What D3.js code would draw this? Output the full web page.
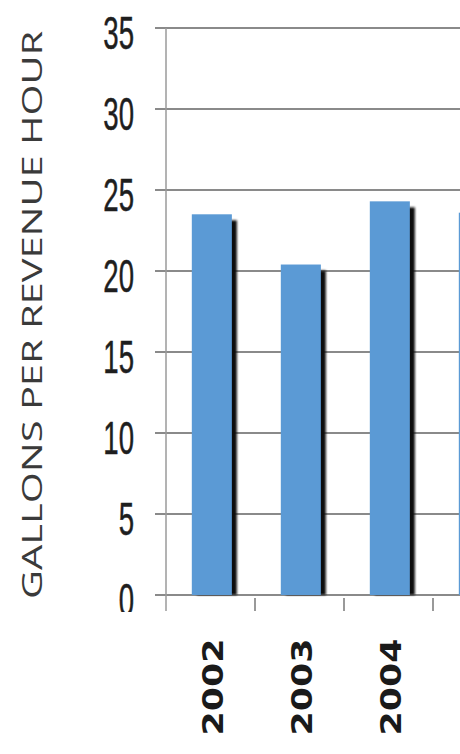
<!DOCTYPE html>
<html>
<head>
<meta charset="utf-8">
<script src="https://cdn.jsdelivr.net/npm/d3@7"></script>
<style>
  html, body { margin: 0; padding: 0; background: #fff; overflow: hidden; }
</style>
</head>
<body>
<div id="chart"></div>
<script>
// data
var years = ["2002", "2003", "2004", "2005"];
var gallons = [23.5, 20.4, 24.3, 23.6];
var yTicks = [0, 5, 10, 15, 20, 25, 30, 35];
var yTitle = "GALLONS PER REVENUE HOUR";

var W = 460, H = 754;
var svg = d3.select("#chart").append("svg")
    .attr("width", W)
    .attr("height", H);

var axisX = 166, bandW = 89;
var y = d3.scaleLinear().domain([0, 35]).range([595, 28]);
var x = d3.scaleBand().domain(years)
    .range([axisX, axisX + bandW * years.length])
    .paddingInner(0).paddingOuter(0);

var defs = svg.append("defs");
defs.append("clipPath").attr("id", "ylabClip")
  .append("rect").attr("x", 0).attr("y", 0).attr("width", 160).attr("height", 612);
defs.append("filter").attr("id", "soft")
  .append("feGaussianBlur").attr("stdDeviation", 0.8);

// gridlines
svg.append("g").selectAll("line")
    .data(yTicks)
  .enter().append("line")
    .attr("x1", 155).attr("x2", W)
    .attr("y1", function(d) { return y(d); })
    .attr("y2", function(d) { return y(d); })
    .style("stroke", "#8a8a8a")
    .style("stroke-width", 2);

// y axis line
svg.append("line")
    .attr("x1", axisX).attr("x2", axisX)
    .attr("y1", y(35)).attr("y2", 611)
    .style("stroke", "#9a9a9a")
    .style("stroke-width", 1.5);

// category tick marks below the axis
svg.append("g").selectAll("line")
    .data(years.slice(1))
  .enter().append("line")
    .attr("x1", function(d) { return x(d); })
    .attr("x2", function(d) { return x(d); })
    .attr("y1", 598).attr("y2", 611)
    .style("stroke", "#777")
    .style("stroke-width", 1.5);

// bars: dark shadow then blue face
var bw = bandW * 0.45;
var bars = svg.append("g").selectAll("g")
    .data(gallons)
  .enter().append("g");

bars.append("rect")
    .attr("x", function(d, i) { return x(years[i]) + bandW * 0.29 + 5; })
    .attr("y", function(d) { return y(d) + 6; })
    .attr("width", bw)
    .attr("height", function(d) { return y(0) - y(d) - 6; })
    .style("fill", "#111")
    .attr("filter", "url(#soft)");

bars.append("rect")
    .attr("x", function(d, i) { return x(years[i]) + bandW * 0.29; })
    .attr("y", function(d) { return y(d); })
    .attr("width", bw)
    .attr("height", function(d) { return y(0) - y(d); })
    .style("fill", "#5b9ad5");

// y tick labels (tall, narrow digits)
svg.append("g").attr("clip-path", "url(#ylabClip)")
  .selectAll("text")
    .data(yTicks)
  .enter().append("text")
    .attr("transform", function(d) { return "translate(134," + (y(d) + 21) + ") scale(0.6,1)"; })
    .attr("text-anchor", "end")
    .style("font-family", "'Liberation Sans', Arial, sans-serif")
    .style("font-size", "46px")
    .style("fill", "#1e1e1e")
    .style("stroke", "#1e1e1e")
    .style("stroke-width", 0.5)
    .text(function(d) { return d; });

// x tick labels, rotated (only the ones that fit in the window)
svg.append("g").selectAll("text")
    .data(years.filter(function(d) { return x(d) + bandW / 2 + 12 < W - 10; }))
  .enter().append("text")
    .attr("transform", function(d) {
      return "translate(" + (x(d) + bandW / 2 + 12) + ",687) rotate(-90) scale(1.2,1)";
    })
    .attr("text-anchor", "middle")
    .style("font-family", "'DejaVu Sans', Verdana, sans-serif")
    .style("font-weight", "bold")
    .style("font-size", "29px")
    .style("fill", "#1a1a1a")
    .text(function(d) { return d; });

// y title
svg.append("text")
    .attr("transform", "translate(42,315) rotate(-90)")
    .attr("text-anchor", "middle")
    .attr("textLength", 568)
    .attr("lengthAdjust", "spacingAndGlyphs")
    .style("font-family", "'Open Sans', sans-serif")
    .style("font-size", "27px")
    .style("fill", "#3a3a3a")
    .text(yTitle);
</script>
</body>
</html>
